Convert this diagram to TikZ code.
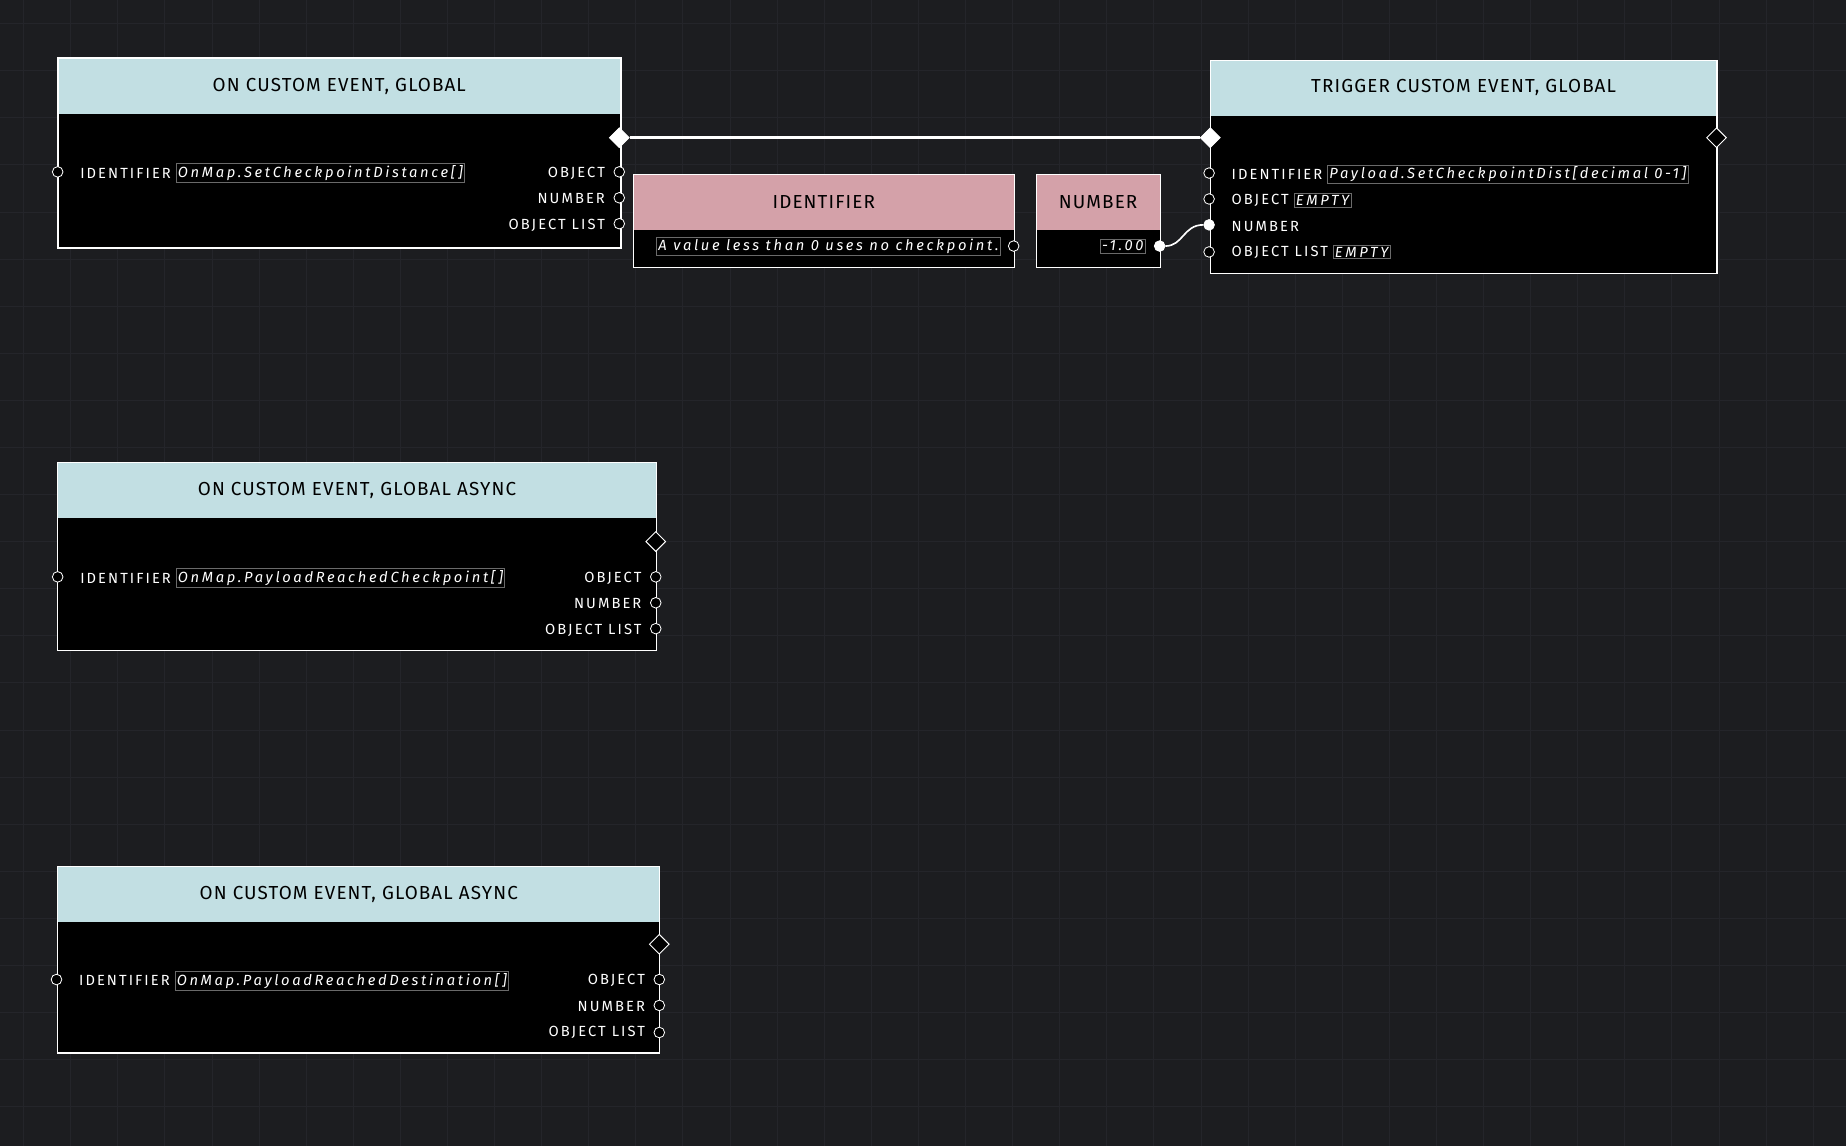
\documentclass[tikz,border=0pt]{standalone}
\usepackage{fontspec}
\setmainfont{Fira Sans}
\newfontfamily\labf{Fira Sans}[LetterSpace=14]
\newfontfamily\headf{Fira Sans}[LetterSpace=6]
\newfontfamily\fieldf{Fira Sans}[LetterSpace=18]
\usetikzlibrary{shapes.geometric}
\definecolor{bg}{HTML}{1C1D20}
\definecolor{gridc}{HTML}{24252A}
\definecolor{hblue}{HTML}{C2DFE3}
\definecolor{hpink}{HTML}{D4A1A9}
\definecolor{fieldc}{HTML}{6A6A6A}
\begin{document}
\begin{tikzpicture}[x=1pt,y=-1pt,
  body/.style={fill=black,draw=none,anchor=north west,inner sep=0},
  head/.style={anchor=north west,inner sep=0,text=black,font=\headf\fontsize{16}{18}\selectfont},
  port/.style={circle,draw=white,fill=black,minimum size=9pt,inner sep=0,line width=0.7pt},
  fport/.style={port,fill=white},
  dia/.style={diamond,draw=white,fill=black,minimum size=17pt,inner sep=0,line width=0.8pt},
  fdia/.style={dia,fill=white},
  lab/.style={text=white,inner sep=0,font=\labf\fontsize{12.5}{14}\selectfont},
  field/.style={draw=fieldc,line width=0.6pt,text=white,inner sep=1.5pt,font=\fieldf\itshape\fontsize{12.5}{15}\selectfont},
  frame/.style={draw=white,line width=0.9pt},
  wire/.style={draw=white,line width=2.2pt}]
\useasboundingbox (0,0) rectangle (1568,973);
\fill[bg] (0,0) rectangle (1568,973);
\foreach \i in {0,...,39} {\draw[gridc,line width=0.6pt] (\i*40+20,0) -- (\i*40+20,973);}
\foreach \j in {0,...,24} {\draw[gridc,line width=0.6pt] (0,\j*40+20) -- (1568,\j*40+20);}

% Node 1
\node[body,minimum width=478pt,minimum height=161pt] (n1) at (49,49) {};
\node[head,fill=hblue,minimum width=478pt,minimum height=48pt] (n1h) at (49,49) {ON CUSTOM EVENT, GLOBAL};
\draw[frame,line width=1.6pt] (n1.north west) rectangle (n1.south east);
\node[lab,anchor=west] (n1l1) at (68,147) {IDENTIFIER};
\node[field,anchor=west,xshift=4pt] (n1f1) at (n1l1.east) {OnMap.SetCheckpointDistance[]};
\node[lab,anchor=east] (n1r1) at (514,147) {OBJECT};
\node[lab,anchor=east] (n1r2) at (514,169) {NUMBER};
\node[lab,anchor=east] (n1r3) at (514,191) {OBJECT LIST};
\node[port] (n1pi) at (49,146) {};
\node[port] (n1o1) at (526,146) {};
\node[port] (n1o2) at (526,168) {};
\node[port] (n1o3) at (526,190) {};
\node[fdia] (n1x) at (526,117) {};

% Identifier node
\node[body,minimum width=323pt,minimum height=79pt] (id) at (538,148) {};
\node[head,fill=hpink,minimum width=323pt,minimum height=47pt] (idh) at (538,148) {IDENTIFIER};
\draw[frame] (id.north west) rectangle (id.south east);
\node[field,anchor=east] (idf) at (850,209) {A value less than 0 uses no checkpoint.};
\node[port] (ido) at (861,209) {};

% Number node
\node[body,minimum width=105pt,minimum height=79pt] (num) at (880,148) {};
\node[head,fill=hpink,minimum width=105pt,minimum height=47pt] (numh) at (880,148) {NUMBER};
\draw[frame] (num.north west) rectangle (num.south east);
\node[field,anchor=east] (numf) at (973,209) {-1.00};
\node[fport] (numo) at (985,209) {};

% Trigger node
\node[body,minimum width=430pt,minimum height=181pt] (tr) at (1028,51) {};
\node[head,fill=hblue,minimum width=430pt,minimum height=47pt] (trh) at (1028,51) {TRIGGER CUSTOM EVENT, GLOBAL};
\draw[frame] (tr.north west) rectangle (tr.south east);
\node[lab,anchor=west] (trl1) at (1046,148) {IDENTIFIER};
\node[field,anchor=west,xshift=4pt] (trf1) at (trl1.east) {Payload.SetCheckpointDist[decimal 0-1]};
\node[lab,anchor=west] (trl2) at (1046,170) {OBJECT};
\node[field,anchor=west,xshift=4pt] (trf2) at (trl2.east) {EMPTY};
\node[lab,anchor=west] (trl3) at (1046,192) {NUMBER};
\node[lab,anchor=west] (trl4) at (1046,214) {OBJECT LIST};
\node[field,anchor=west,xshift=4pt] (trf4) at (trl4.east) {EMPTY};
\node[port] (tri1) at (1027,147) {};
\node[port] (tri2) at (1027,169) {};
\node[fport] (tri3) at (1027,191) {};
\node[port] (tri4) at (1027,214) {};
\node[fdia] (trx) at (1028,117) {};
\node[dia] (tro) at (1458,117) {};

% wires
\draw[wire] (n1x) -- (trx);
\draw[draw=white,line width=1.4pt] (numo) .. controls (1005,209) and (1005,191) .. (tri3);

% Async 1
\node[body,minimum width=508pt,minimum height=159pt] (a1) at (49,393) {};
\node[head,fill=hblue,minimum width=508pt,minimum height=47pt] (a1h) at (49,393) {ON CUSTOM EVENT, GLOBAL ASYNC};
\draw[frame] (a1.north west) rectangle (a1.south east);
\node[lab,anchor=west] (a1l1) at (68,491) {IDENTIFIER};
\node[field,anchor=west,xshift=4pt] (a1f1) at (a1l1.east) {OnMap.PayloadReachedCheckpoint[]};
\node[lab,anchor=east] (a1r1) at (545,491) {OBJECT};
\node[lab,anchor=east] (a1r2) at (545,513) {NUMBER};
\node[lab,anchor=east] (a1r3) at (545,535) {OBJECT LIST};
\node[port] (a1pi) at (49,490) {};
\node[port] (a1o1) at (557,490) {};
\node[port] (a1o2) at (557,512) {};
\node[port] (a1o3) at (557,534) {};
\node[dia] (a1x) at (557,460) {};

% Async 2
\node[body,minimum width=511pt,minimum height=158pt] (a2) at (49,736) {};
\node[head,fill=hblue,minimum width=511pt,minimum height=47pt] (a2h) at (49,736) {ON CUSTOM EVENT, GLOBAL ASYNC};
\draw[frame] (a2.north west) rectangle (a2.south east);
\node[lab,anchor=west] (a2l1) at (67,833) {IDENTIFIER};
\node[field,anchor=west,xshift=4pt] (a2f1) at (a2l1.east) {OnMap.PayloadReachedDestination[]};
\node[lab,anchor=east] (a2r1) at (548,833) {OBJECT};
\node[lab,anchor=east] (a2r2) at (548,855) {NUMBER};
\node[lab,anchor=east] (a2r3) at (548,877) {OBJECT LIST};
\node[port] (a2pi) at (48,832) {};
\node[port] (a2o1) at (560,832) {};
\node[port] (a2o2) at (560,854) {};
\node[port] (a2o3) at (560,877) {};
\node[dia] (a2x) at (560,802) {};
\end{tikzpicture}
\end{document}
